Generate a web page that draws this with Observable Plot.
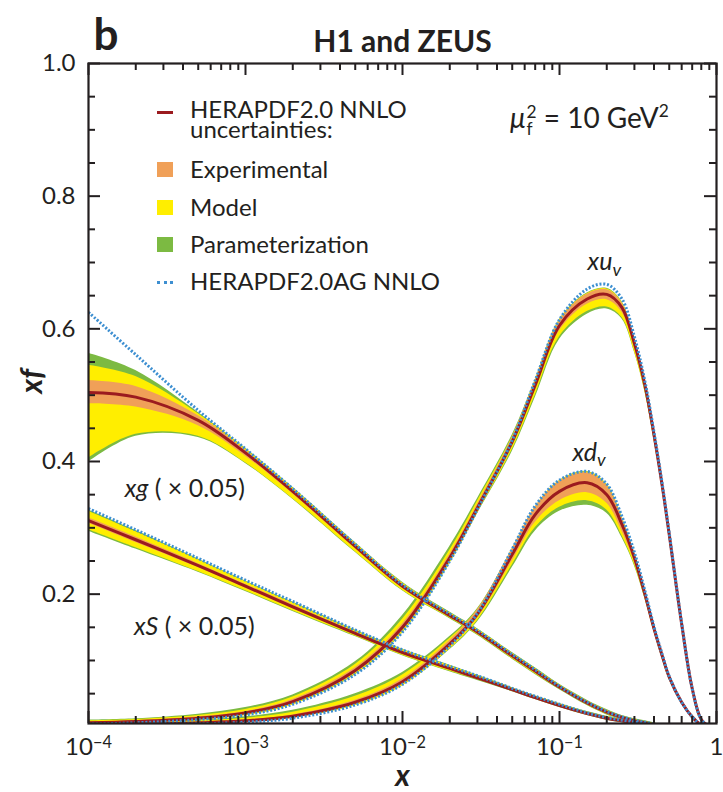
<!DOCTYPE html>
<html>
<head>
<meta charset="utf-8">
<script src="https://cdn.jsdelivr.net/npm/d3@7"></script>
<script src="https://cdn.jsdelivr.net/npm/@observablehq/plot@0.6"></script>
<style>
  html, body { margin: 0; padding: 0; background: #fff; }
  #wrap { position: relative; width: 723px; height: 792px; font-family: Lato, "Open Sans", sans-serif; color: #231f20; }
  #wrap > svg { position: absolute; left: 0; top: 0; }
  .row { position: absolute; left: 190px; font-size: 24px; line-height: 20px; white-space: nowrap; }
  .sw { position: absolute; left: 157px; width: 16px; height: 15px; }
  .ln { position: absolute; left: 157px; width: 16px; height: 0; }
  #mu { position: absolute; left: 510px; top: 102px; font-size: 28px; line-height: 30px; white-space: nowrap; }
</style>
</head>
<body>
<div id="wrap"></div>
<script>
// ---------------- data ----------------
const X_GRID = [0.0001, 0.0002, 0.0005, 0.001, 0.002, 0.005, 0.01, 0.02, 0.03, 0.05, 0.07, 0.1, 0.15, 0.2, 0.25, 0.3, 0.35, 0.4, 0.45, 0.5, 0.6, 0.7, 0.8, 0.9];

// x u_v
const XUV_CENTRAL = [0.006,0.008,0.013,0.021,0.038,0.085,0.150,0.255,0.330,0.430,0.515,0.605,0.645,0.652,0.632,0.578,0.515,0.440,0.365,0.290,0.155,0.058,0.011,0.0005];
const XUV_EXP_HI  = [0.007,0.009,0.015,0.023,0.041,0.089,0.155,0.260,0.335,0.436,0.521,0.612,0.652,0.659,0.639,0.584,0.520,0.444,0.368,0.293,0.157,0.060,0.012,0.001];
const XUV_EXP_LO  = [0.005,0.007,0.011,0.019,0.035,0.081,0.145,0.250,0.325,0.424,0.508,0.597,0.637,0.644,0.625,0.572,0.510,0.436,0.362,0.287,0.153,0.056,0.010,0.0002];
const XUV_MOD_HI  = [0.009,0.011,0.017,0.026,0.045,0.094,0.162,0.266,0.340,0.437,0.522,0.613,0.653,0.660,0.640,0.585,0.521,0.445,0.369,0.294,0.158,0.061,0.013,0.001];
const XUV_MOD_LO  = [0.004,0.006,0.010,0.017,0.033,0.079,0.142,0.247,0.322,0.418,0.500,0.588,0.626,0.633,0.617,0.566,0.506,0.433,0.360,0.285,0.152,0.055,0.009,0];
const XUV_PAR_HI  = [0.010,0.012,0.019,0.029,0.048,0.098,0.168,0.272,0.344,0.440,0.523,0.614,0.654,0.661,0.641,0.586,0.522,0.446,0.370,0.295,0.159,0.062,0.013,0.001];
const XUV_PAR_LO  = [0.004,0.006,0.010,0.017,0.033,0.078,0.141,0.246,0.321,0.415,0.496,0.584,0.622,0.630,0.615,0.565,0.505,0.432,0.359,0.284,0.151,0.054,0.009,0];
const XUV_AG      = [0.004,0.006,0.011,0.018,0.034,0.079,0.143,0.250,0.328,0.432,0.522,0.614,0.660,0.667,0.645,0.588,0.521,0.444,0.368,0.292,0.156,0.058,0.011,0.0005];

// x d_v
const XDV_CENTRAL = [0.003,0.004,0.006,0.009,0.016,0.037,0.068,0.125,0.170,0.260,0.320,0.355,0.368,0.350,0.305,0.255,0.200,0.148,0.108,0.075,0.037,0.015,0.003,0.0002];
const XDV_EXP_HI  = [0.0035,0.0047,0.007,0.0105,0.018,0.040,0.072,0.130,0.176,0.268,0.331,0.370,0.383,0.364,0.315,0.261,0.204,0.151,0.111,0.077,0.0385,0.016,0.0035,0.0004];
const XDV_EXP_LO  = [0.0025,0.0033,0.005,0.0075,0.014,0.034,0.064,0.120,0.164,0.250,0.308,0.341,0.353,0.337,0.295,0.249,0.196,0.145,0.105,0.073,0.0355,0.014,0.0025,0];
const XDV_MOD_HI  = [0.0045,0.006,0.009,0.013,0.022,0.046,0.078,0.133,0.176,0.268,0.331,0.371,0.384,0.365,0.316,0.262,0.205,0.151,0.111,0.077,0.0385,0.016,0.0035,0.0004];
const XDV_MOD_LO  = [0.002,0.003,0.0045,0.007,0.013,0.032,0.062,0.117,0.160,0.244,0.300,0.331,0.341,0.327,0.288,0.245,0.194,0.144,0.104,0.072,0.035,0.0135,0.0022,0];
const XDV_PAR_HI  = [0.005,0.007,0.010,0.015,0.025,0.050,0.082,0.136,0.178,0.268,0.331,0.371,0.385,0.366,0.317,0.263,0.205,0.152,0.111,0.077,0.0385,0.016,0.0035,0.0004];
const XDV_PAR_LO  = [0.002,0.003,0.0045,0.007,0.013,0.032,0.062,0.116,0.158,0.240,0.295,0.325,0.334,0.322,0.285,0.243,0.193,0.143,0.103,0.071,0.0345,0.013,0.002,0];
const XDV_AG      = [0.002,0.003,0.0045,0.007,0.013,0.033,0.064,0.122,0.171,0.268,0.333,0.372,0.385,0.366,0.317,0.263,0.205,0.151,0.110,0.076,0.037,0.015,0.003,0.0002];

// x g (x 0.05)
const XG_CENTRAL = [0.504,0.497,0.462,0.413,0.355,0.272,0.212,0.168,0.143,0.107,0.084,0.060,0.036,0.022,0.014,0.009,0.006,0.003,0.0015,0.0008,0,0,0,0];
const XG_EXP_HI  = [0.522,0.513,0.469,0.417,0.358,0.275,0.215,0.170,0.145,0.109,0.086,0.061,0.037,0.023,0.015,0.010,0.007,0.004,0.002,0.001,0,0,0,0];
const XG_EXP_LO  = [0.487,0.482,0.454,0.408,0.351,0.269,0.209,0.166,0.141,0.105,0.082,0.059,0.035,0.021,0.013,0.008,0.005,0.002,0.001,0.0005,0,0,0,0];
const XG_MOD_HI  = [0.545,0.528,0.472,0.419,0.360,0.277,0.217,0.172,0.147,0.111,0.088,0.063,0.039,0.025,0.016,0.011,0.008,0.005,0.003,0.0015,0,0,0,0];
const XG_MOD_LO  = [0.405,0.441,0.438,0.398,0.344,0.264,0.206,0.164,0.139,0.103,0.080,0.057,0.033,0.019,0.012,0.007,0.004,0.0015,0.0005,0,0,0,0,0];
const XG_PAR_HI  = [0.563,0.537,0.474,0.420,0.361,0.278,0.218,0.173,0.148,0.112,0.089,0.064,0.040,0.026,0.017,0.012,0.009,0.006,0.003,0.002,0,0,0,0];
const XG_PAR_LO  = [0.399,0.438,0.436,0.397,0.343,0.263,0.205,0.163,0.138,0.102,0.079,0.056,0.032,0.018,0.011,0.006,0.003,0.001,0,0,0,0,0,0];
const XG_AG      = [0.625,0.561,0.477,0.419,0.359,0.275,0.214,0.170,0.145,0.109,0.086,0.061,0.037,0.023,0.015,0.010,0.007,0.004,0.002,0.001,0,0,0,0];

// x S (x 0.05)
const XS_CENTRAL = [0.311,0.282,0.243,0.212,0.181,0.141,0.112,0.088,0.074,0.056,0.044,0.032,0.020,0.013,0.009,0.006,0.004,0.0025,0.0015,0.001,0,0,0,0];
const XS_EXP_HI  = [0.315,0.286,0.246,0.215,0.184,0.143,0.114,0.090,0.075,0.057,0.045,0.033,0.021,0.014,0.010,0.007,0.0045,0.003,0.002,0.0012,0,0,0,0];
const XS_EXP_LO  = [0.307,0.278,0.240,0.209,0.178,0.139,0.110,0.086,0.073,0.055,0.043,0.031,0.019,0.012,0.008,0.005,0.0035,0.002,0.001,0.0008,0,0,0,0];
const XS_MOD_HI  = [0.325,0.294,0.252,0.219,0.187,0.145,0.116,0.092,0.077,0.058,0.046,0.034,0.022,0.015,0.011,0.008,0.005,0.0035,0.0025,0.0015,0,0,0,0];
const XS_MOD_LO  = [0.297,0.270,0.234,0.205,0.175,0.137,0.108,0.084,0.071,0.054,0.042,0.030,0.018,0.011,0.007,0.004,0.003,0.0015,0.0008,0.0005,0,0,0,0];
const XS_PAR_HI  = [0.327,0.296,0.253,0.220,0.188,0.146,0.117,0.093,0.078,0.059,0.047,0.035,0.023,0.016,0.012,0.009,0.006,0.004,0.003,0.002,0,0,0,0];
const XS_PAR_LO  = [0.295,0.268,0.233,0.204,0.174,0.136,0.107,0.083,0.070,0.053,0.041,0.029,0.017,0.010,0.006,0.003,0.002,0.001,0.0005,0.0003,0,0,0,0];
const XS_AG      = [0.329,0.297,0.254,0.221,0.189,0.146,0.116,0.091,0.077,0.058,0.046,0.034,0.021,0.014,0.010,0.007,0.005,0.003,0.002,0.001,0,0,0,0];

// ticks
const X_MAJOR = [0.0001, 0.001, 0.01, 0.1, 1];
const X_MAJOR_LABELS = ["10^-4", "10^-3", "10^-2", "10^-1", "1"];
const X_MINOR = [0.0002,0.0003,0.0004,0.0005,0.0006,0.0007,0.0008,0.0009,
                 0.002,0.003,0.004,0.005,0.006,0.007,0.008,0.009,
                 0.02,0.03,0.04,0.05,0.06,0.07,0.08,0.09,
                 0.2,0.3,0.4,0.5,0.6,0.7,0.8,0.9];
const Y_MAJOR = [0.2, 0.4, 0.6, 0.8, 1.0];
const Y_MAJOR_LABELS = ["0.2", "0.4", "0.6", "0.8", "1.0"];
const Y_MINOR = [0.05,0.1,0.15,0.25,0.3,0.35,0.45,0.5,0.55,0.65,0.7,0.75,0.85,0.9,0.95];

// labels
const LEGEND_LABELS = ["HERAPDF2.0 NNLO", "uncertainties:", "Experimental", "Model", "Parameterization", "HERAPDF2.0AG NNLO"];
const CURVE_LABELS = [
  {key: "xuv", x: 0.151, y: 0.700},
  {key: "xdv", x: 0.121, y: 0.413},
  {key: "xg",  x: 0.000170, y: 0.359},
  {key: "xS",  x: 0.000195, y: 0.150}
];

// ---------------- styling ----------------
const INK = "#231f20";
const C_EXP = "#F0A058";
const C_MOD = "#FFEE00";
const C_PAR = "#7CBA42";
const C_CEN = "#9B1B1F";
const C_AG  = "#3D8FD1";

// frame geometry (pixels) and scale domains
const W = 723, H = 792, MT = 63, MR = 7, MB = 69, ML = 88;
const FW = W - ML - MR, FH = H - MT - MB;
const X_DOMAIN = [1e-4, 1], Y_DOMAIN = [0.005, 1];
const TICK_MAJOR = 12, TICK_MINOR = 7;
// tick lengths expressed through the scales
const xLen = px => Math.pow(10, px * Math.log10(X_DOMAIN[1] / X_DOMAIN[0]) / FW);
const yLen = px => px * (Y_DOMAIN[1] - Y_DOMAIN[0]) / FH;

function band(name, lo, hi) { return X_GRID.map((x, i) => ({curve: name, x, lo: lo[i], hi: hi[i]})); }
function series(name, ys) { return X_GRID.map((x, i) => ({curve: name, x, y: ys[i]})); }

const parBand = [...band("xuv", XUV_PAR_LO, XUV_PAR_HI), ...band("xdv", XDV_PAR_LO, XDV_PAR_HI), ...band("xg", XG_PAR_LO, XG_PAR_HI), ...band("xS", XS_PAR_LO, XS_PAR_HI)];
const modBand = [...band("xuv", XUV_MOD_LO, XUV_MOD_HI), ...band("xdv", XDV_MOD_LO, XDV_MOD_HI), ...band("xg", XG_MOD_LO, XG_MOD_HI), ...band("xS", XS_MOD_LO, XS_MOD_HI)];
const expBand = [...band("xuv", XUV_EXP_LO, XUV_EXP_HI), ...band("xdv", XDV_EXP_LO, XDV_EXP_HI), ...band("xg", XG_EXP_LO, XG_EXP_HI), ...band("xS", XS_EXP_LO, XS_EXP_HI)];
const central = [...series("xuv", XUV_CENTRAL), ...series("xdv", XDV_CENTRAL), ...series("xg", XG_CENTRAL), ...series("xS", XS_CENTRAL)];
const ag = [...series("xuv", XUV_AG), ...series("xdv", XDV_AG), ...series("xg", XG_AG), ...series("xS", XS_AG)];

const CURVE = "catmull-rom";
const tk = {stroke: INK, strokeWidth: 2, strokeLinecap: "butt"};

const chart = Plot.plot({
  width: W, height: H,
  marginTop: MT, marginRight: MR, marginBottom: MB, marginLeft: ML,
  style: {fontFamily: "Lato, sans-serif", fontSize: "23px", color: INK, background: "transparent", overflow: "visible"},
  x: {type: "log", domain: X_DOMAIN, axis: null},
  y: {domain: Y_DOMAIN, axis: null},
  marks: [
    Plot.areaY(parBand, {x: "x", y1: "lo", y2: "hi", z: "curve", fill: C_PAR, curve: CURVE, clip: true}),
    Plot.areaY(modBand, {x: "x", y1: "lo", y2: "hi", z: "curve", fill: C_MOD, curve: CURVE, clip: true}),
    Plot.areaY(expBand, {x: "x", y1: "lo", y2: "hi", z: "curve", fill: C_EXP, curve: CURVE, clip: true}),
    Plot.line(central, {x: "x", y: "y", z: "curve", stroke: C_CEN, strokeWidth: 3, curve: CURVE, clip: true}),
    Plot.line(ag, {x: "x", y: "y", z: "curve", stroke: C_AG, strokeWidth: 3, strokeDasharray: "2,1.8", strokeLinecap: "butt", curve: CURVE, clip: true}),
    // inward ticks on all four sides
    Plot.ruleY(Y_MAJOR, {y: d => d, x1: X_DOMAIN[0], x2: X_DOMAIN[0] * xLen(TICK_MAJOR), ...tk}),
    Plot.ruleY(Y_MINOR, {y: d => d, x1: X_DOMAIN[0], x2: X_DOMAIN[0] * xLen(TICK_MINOR), ...tk}),
    Plot.ruleY(Y_MAJOR, {y: d => d, x1: X_DOMAIN[1] / xLen(TICK_MAJOR), x2: X_DOMAIN[1], ...tk}),
    Plot.ruleY(Y_MINOR, {y: d => d, x1: X_DOMAIN[1] / xLen(TICK_MINOR), x2: X_DOMAIN[1], ...tk}),
    Plot.ruleX(X_MAJOR, {x: d => d, y1: Y_DOMAIN[0], y2: Y_DOMAIN[0] + yLen(TICK_MAJOR), ...tk}),
    Plot.ruleX(X_MINOR, {x: d => d, y1: Y_DOMAIN[0], y2: Y_DOMAIN[0] + yLen(TICK_MINOR), ...tk}),
    Plot.ruleX(X_MAJOR, {x: d => d, y1: Y_DOMAIN[1] - yLen(TICK_MAJOR), y2: Y_DOMAIN[1], ...tk}),
    Plot.ruleX(X_MINOR, {x: d => d, y1: Y_DOMAIN[1] - yLen(TICK_MINOR), y2: Y_DOMAIN[1], ...tk}),
    Plot.frame({stroke: INK, strokeWidth: 2.2}),
    // tick labels
    Plot.text(Y_MAJOR, {y: d => d, frameAnchor: "left", dx: -13, textAnchor: "end", lineAnchor: "middle", text: (d, i) => Y_MAJOR_LABELS[i], fontSize: 24, fill: INK}),
    Plot.text(X_MAJOR, {x: d => d, frameAnchor: "bottom", dy: 24, lineAnchor: "middle", text: (d, i) => X_MAJOR_LABELS[i], fontSize: 24, fill: INK}),
    // axis labels and titles
    Plot.text(["x"], {frameAnchor: "bottom", dy: 53, lineAnchor: "middle", fontSize: 30, fontWeight: "bold", fontStyle: "italic", fill: INK}),
    Plot.text(["xf"], {frameAnchor: "left", dx: -56, lineAnchor: "middle", rotate: -90, fontSize: 30, fontWeight: "bold", fontStyle: "italic", fill: INK}),
    Plot.text(["H1 and ZEUS"], {frameAnchor: "top", dy: -21, lineAnchor: "middle", fontSize: 30, fontWeight: "bold", fill: INK}),
    Plot.text(["b"], {frameAnchor: "top-left", dx: 5, dy: -28, textAnchor: "start", lineAnchor: "middle", fontSize: 44, fontWeight: "bold", fill: INK}),
    // curve labels
    Plot.text(CURVE_LABELS, {x: "x", y: "y", text: "key", textAnchor: "start", lineAnchor: "middle", fontSize: 25, fill: INK})
  ]
});

// rich text: superscripts / subscripts / italics
const RICH = {
  "10^-4": '10<tspan dy="-0.45em" font-size="0.68em">\u22124</tspan>',
  "10^-3": '10<tspan dy="-0.45em" font-size="0.68em">\u22123</tspan>',
  "10^-2": '10<tspan dy="-0.45em" font-size="0.68em">\u22122</tspan>',
  "10^-1": '10<tspan dy="-0.45em" font-size="0.68em">\u22121</tspan>',
  xuv: '<tspan font-style="italic">xu</tspan><tspan font-style="italic" font-size="0.72em" dy="0.3em">v</tspan>',
  xdv: '<tspan font-style="italic">xd</tspan><tspan font-style="italic" font-size="0.72em" dy="0.3em">v</tspan>',
  xg: '<tspan font-style="italic">xg</tspan> ( \u00d7 0.05)',
  xS: '<tspan font-style="italic">xS</tspan> ( \u00d7 0.05)'
};
chart.querySelectorAll("text").forEach(t => {
  const k = t.textContent.trim();
  if (Object.prototype.hasOwnProperty.call(RICH, k)) t.innerHTML = RICH[k];
});

const wrap = document.getElementById("wrap");
wrap.appendChild(chart);

// legend (HTML overlay inside the frame)
const rowCenters = [110, 130, 170, 208, 245, 282];
LEGEND_LABELS.forEach((lab, i) => {
  const r = document.createElement("div");
  r.className = "row";
  r.style.top = (rowCenters[i] - 11) + "px";
  r.textContent = lab;
  wrap.appendChild(r);
});
[C_EXP, C_MOD, C_PAR].forEach((c, j) => {
  const s = document.createElement("div");
  s.className = "sw";
  s.style.background = c;
  s.style.top = (rowCenters[j + 2] - 8) + "px";
  wrap.appendChild(s);
});
const l1 = document.createElement("div");
l1.className = "ln";
l1.style.top = (rowCenters[0] + 1) + "px";
l1.style.borderTop = "3px solid " + C_CEN;
wrap.appendChild(l1);
const l2 = document.createElement("div");
l2.className = "ln";
l2.style.top = (rowCenters[5] - 1) + "px";
l2.style.borderTop = "3px dotted " + C_AG;
wrap.appendChild(l2);

// scale annotation
const mu = document.createElement("div");
mu.id = "mu";
mu.innerHTML = '<i>\u03bc</i><span style="display:inline-block;vertical-align:-0.4em;font-size:0.62em;line-height:0.95;margin-left:1px"><span style="display:block">2</span><span style="display:block">f</span></span> = 10 GeV<sup style="font-size:0.62em;vertical-align:0.62em;line-height:0">2</sup>';
wrap.appendChild(mu);
</script>
</body>
</html>
